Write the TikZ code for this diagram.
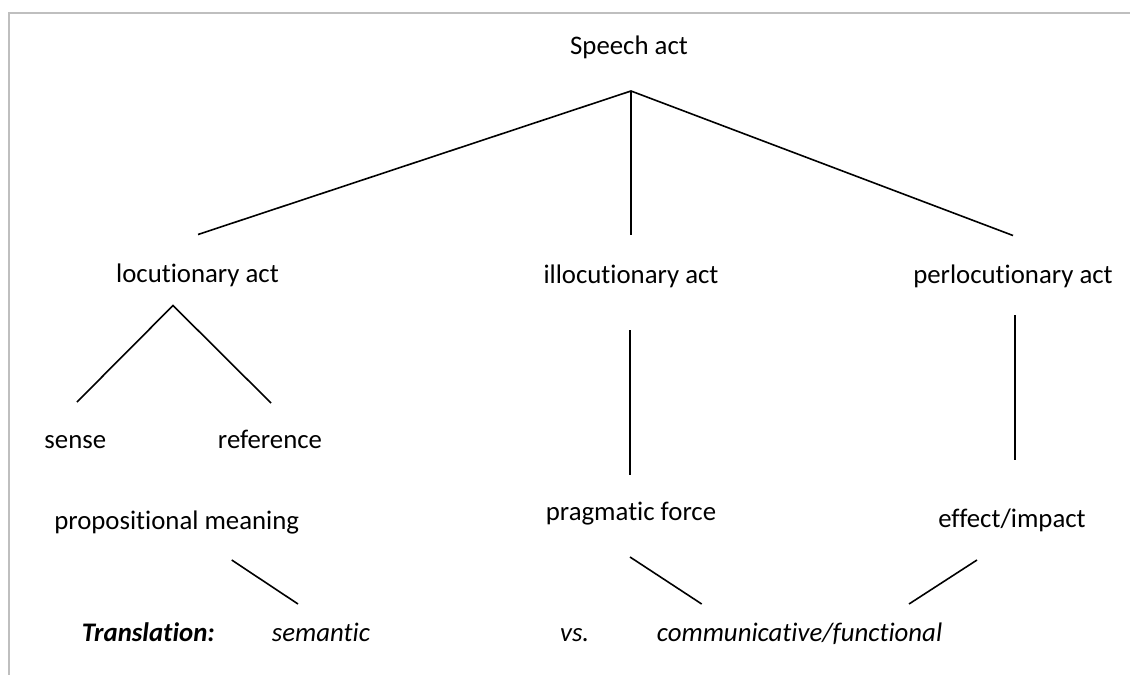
\documentclass[tikz,border=0pt]{standalone}
\usepackage{fontspec}
\setmainfont{Carlito}[Ligatures={NoCommon}]
\begin{document}
\begin{tikzpicture}[x=1pt,y=-1pt,
  lbl/.style={anchor=base,inner sep=0pt,font=\fontsize{26.8}{31}\selectfont},
  lblw/.style={anchor=base west,inner sep=0pt,font=\fontsize{26.8}{31}\selectfont\itshape},
  branch/.style={draw=black,line width=1.6pt},
  frameline/.style={draw=black!25,line width=1.8pt}]
\useasboundingbox (0,0) rectangle (1130,675);
\fill[white] (0,0) rectangle (1130,675);
% frame
\coordinate (fTR) at (1130,13);
\coordinate (fTL) at (9,13);
\coordinate (fBL) at (9,675);
\draw[frameline] (fTR) -- (fTL) -- (fBL);
% texts
\node[lbl] (speech) at (629,54.3) {Speech act};
\node[lbl] (locut) at (197.5,282) {locutionary act};
\node[lbl] (illoc) at (631,283) {illocutionary act};
\node[lbl] (perloc) at (1013,283.5) {perlocutionary act};
\node[lbl] (sense) at (75.3,448.3) {sense};
\node[lbl] (refer) at (270,448.3) {reference};
\node[lbl] (propm) at (176.7,529) {propositional meaning};
\node[lbl] (pragf) at (631,520) {pragmatic force};
\node[lbl] (effect) at (1012,527) {effect/impact};
\node[lblw,font=\fontsize{26.8}{31}\selectfont\bfseries\itshape] (transl) at (81.7,641) {Translation:};
\node[lblw] (seman) at (271.7,641) {semantic};
\node[lblw] (vs) at (560,641) {vs.};
\node[lblw] (commu) at (656.7,641) {communicative/functional};
% connector points
\coordinate (apex) at (631,91);
\coordinate (apexL) at (198,234.5);
\coordinate (apexM) at (631,235);
\coordinate (apexR) at (1013,235.5);
\coordinate (locTop) at (173,305.5);
\coordinate (locL) at (77,402);
\coordinate (locR) at (271,403);
\coordinate (illTop) at (630,330);
\coordinate (illBot) at (630,475);
\coordinate (perTop) at (1015,315);
\coordinate (perBot) at (1015,460);
\coordinate (propA) at (231.7,560);
\coordinate (propB) at (298,604);
\coordinate (pragA) at (630,557);
\coordinate (pragB) at (701.7,604);
\coordinate (effA) at (977,560);
\coordinate (effB) at (909,604);
% connectors
\draw[branch] (apexL) -- (apex) -- (apexR);
\draw[branch] (apex) -- (apexM);
\draw[branch] (locL) -- (locTop) -- (locR);
\draw[branch] (illTop) -- (illBot);
\draw[branch] (perTop) -- (perBot);
\draw[branch] (propA) -- (propB);
\draw[branch] (pragA) -- (pragB);
\draw[branch] (effA) -- (effB);
\end{tikzpicture}
\end{document}
